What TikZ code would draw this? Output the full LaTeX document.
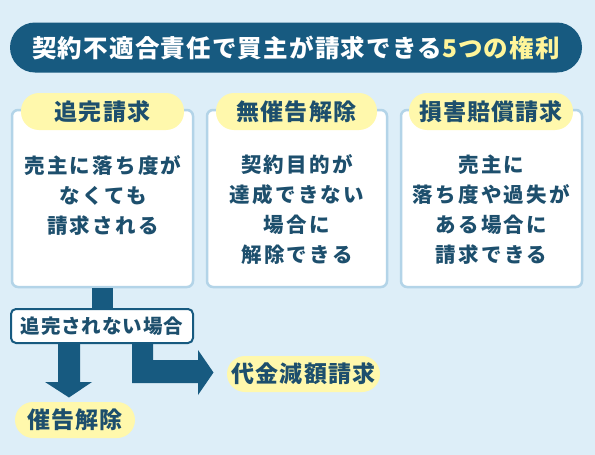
\documentclass[tikz,border=0pt]{standalone}
\usepackage{fontspec}
\newfontfamily\jp{Noto Sans CJK JP}[LetterSpace=5]
\newfontfamily\jpbody{Noto Sans CJK JP}[LetterSpace=11]
\definecolor{bgblue}{HTML}{DDEEF8}
\definecolor{navy}{HTML}{175A80}
\definecolor{pillyellow}{HTML}{FFF8AC}
\definecolor{titleyellow}{HTML}{FFF59A}
\definecolor{ink}{HTML}{1D4F6D}
\definecolor{cardline}{HTML}{B3D4E8}
\tikzset{
  titlebar/.style={fill=navy, rounded corners=25pt, minimum height=50pt, minimum width=572pt, inner sep=0pt},
  card/.style={fill=white, draw=cardline, line width=2.5pt, rounded corners=6pt, minimum height=177pt, inner sep=0pt},
  pill/.style={fill=pillyellow, rounded corners=18pt, minimum height=37pt, inner sep=0pt, text=ink, font=\jp\bfseries\fontsize{23}{26}\selectfont},
  body/.style={text=ink, align=center, font=\jpbody\bfseries\fontsize{20.5}{30}\selectfont, inner sep=0pt},
  condbox/.style={fill=white, draw=navy, line width=2pt, rounded corners=5pt, minimum width=182pt, minimum height=34pt, inner sep=0pt, text=ink, font=\jp\bfseries\fontsize{19.5}{22}\selectfont},
  blockarrow/.style={fill=navy}
}
\begin{document}
\begin{tikzpicture}[x=1pt,y=-1pt]
\fill[bgblue] (0,0) rectangle (595,455);
\useasboundingbox (0,0) rectangle (595,455);

% title
\node[titlebar, font=\jp\bfseries\fontsize{24.5}{28}\selectfont] (title) at (296,47.5)
  {\color{white}契約不適合責任で買主が請求できる\color{titleyellow}5つの権利};

% cards
\node[card, minimum width=181pt] (c1) at (102.5,198.5) {};
\node[card, minimum width=180pt] (c2) at (297,198.5) {};
\node[card, minimum width=181pt] (c3) at (491.5,198.5) {};

% pills
\node[pill, minimum width=163pt] (p1) at (102.5,111.5) {追完請求};
\node[pill, minimum width=161pt] (p2) at (296.5,111.5) {無催告解除};
\node[pill, minimum width=164pt] (p3) at (491,111.5) {損害賠償請求};

% body text
\node[body] (t1) at (103,195) {売主に落ち度が\\なくても\\請求される};
\node[body] (t2) at (297,210) {契約目的が\\達成できない\\場合に\\解除できる};
\node[body] (t3) at (491.5,210) {売主に\\落ち度や過失が\\ある場合に\\請求できる};

% condition label
\node[condbox] (cond) at (102,326) {追完されない場合};

% stem from card 1 to condition label
\fill[blockarrow] ([xshift=-10.5pt]c1.south) rectangle ([xshift=10.5pt]cond.north);

% result pills
\node[pill, minimum width=120pt, minimum height=36pt] (r1) at (75,420) {催告解除};
\node[pill, minimum width=153pt, minimum height=36pt] (r2) at (303.5,374) {代金減額請求};

% block arrows
\fill[blockarrow] (58,343) -- (80,343) -- (80,382) -- (92,382) -- (69,397.5) -- (45,382) -- (58,382) -- cycle;
\fill[blockarrow] (132,343) -- (153,343) -- (153,360) -- (198,360) -- (198,350) -- (213.5,372.5) -- (198,395) -- (198,383) -- (132,383) -- cycle;
\end{tikzpicture}
\end{document}
